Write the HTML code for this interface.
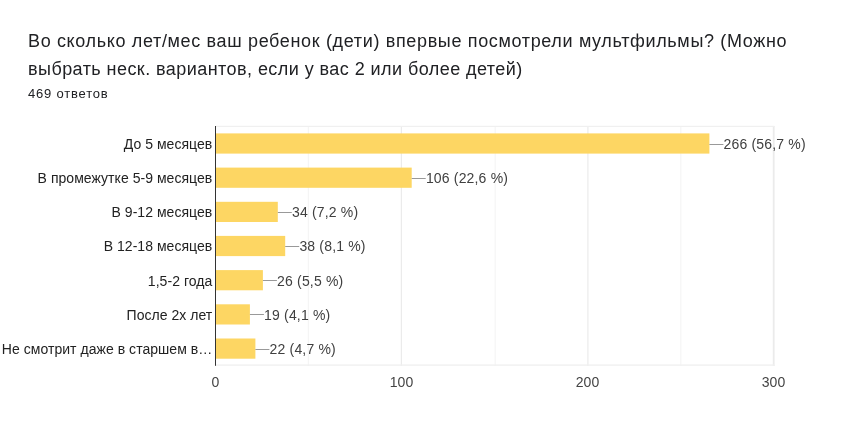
<!DOCTYPE html>
<html lang="ru">
<head>
<meta charset="utf-8">
<title>Chart</title>
<style>
  html, body { margin: 0; padding: 0; background: #ffffff; }
  body { width: 860px; height: 437px; overflow: hidden; position: relative;
         font-family: "Liberation Sans", sans-serif; }
  .title, .sub, svg { will-change: transform; }
  .title { position: absolute; left: 28px; top: 26.5px; width: 820px; white-space: nowrap;
           font-size: 18px; line-height: 28px; color: #202124; letter-spacing: 0.65px; }
  .sub { position: absolute; left: 28px; top: 85.8px; font-size: 13px; line-height: 16px;
          color: #202124; letter-spacing: 0.8px; white-space: nowrap; }
  svg { position: absolute; left: 0; top: 0; }
  svg text { font-family: "Liberation Sans", sans-serif; }
</style>
</head>
<body>
<div class="title"><span>Во сколько лет/мес ваш ребенок (дети) впервые посмотрели мультфильмы? (Можно</span><br><span style="letter-spacing:0.44px">выбрать неск. вариантов, если у вас 2 или более детей)</span></div>
<div class="sub">469 ответов</div>
<svg width="860" height="437" viewBox="0 0 860 437">
  <!-- gridlines -->
  <g fill="#ebebeb">
    <rect x="400.8" y="126" width="1.2" height="240"/>
    <rect x="587.3" y="126" width="1.2" height="240"/>
    <rect x="772.8" y="126" width="1.8" height="240"/>
  </g>
  <g fill="#f5f5f5">
    <rect x="307.8" y="126" width="1.2" height="240"/>
    <rect x="494.6" y="126" width="1.2" height="240"/>
    <rect x="680.2" y="126" width="1.2" height="240"/>
  </g>
  <g fill="#f0f0f0">
    <rect x="216" y="125.8" width="558.6" height="1.2"/>
    <rect x="216" y="364.4" width="558.6" height="1.4"/>
  </g>
  <!-- bars -->
  <g fill="#fdd663">
    <rect x="216" y="133.4" width="493.4" height="20.2"/>
    <rect x="216" y="167.6" width="195.7" height="20.2"/>
    <rect x="216" y="201.8" width="61.8" height="20.2"/>
    <rect x="216" y="235.9" width="69.2" height="20.2"/>
    <rect x="216" y="270.1" width="46.9" height="20.2"/>
    <rect x="216" y="304.3" width="33.9" height="20.2"/>
    <rect x="216" y="338.5" width="39.4" height="20.2"/>
  </g>
  <!-- axis -->
  <rect x="215" y="126" width="1" height="239.8" fill="#333333"/>
  <!-- annotation stems -->
  <g fill="#999999">
    <rect x="709.4" y="144" width="14" height="1"/>
    <rect x="411.7" y="178" width="14" height="1"/>
    <rect x="277.8" y="212" width="14" height="1"/>
    <rect x="285.2" y="246" width="14" height="1"/>
    <rect x="262.9" y="280" width="14" height="1"/>
    <rect x="249.9" y="314" width="14" height="1"/>
    <rect x="255.4" y="349" width="14" height="1"/>
  </g>
  <!-- category labels -->
  <g font-size="14" fill="#222222" text-anchor="end" letter-spacing="0.04">
    <text x="212.3" y="148.9">До 5 месяцев</text>
    <text x="212.3" y="183.1">В промежутке 5-9 месяцев</text>
    <text x="212.3" y="217.3">В 9-12 месяцев</text>
    <text x="212.3" y="251.4">В 12-18 месяцев</text>
    <text x="212.3" y="285.6">1,5-2 года</text>
    <text x="212.3" y="319.8">После 2х лет</text>
    <text x="212.3" y="354.0">Не смотрит даже в старшем в…</text>
  </g>
  <!-- value labels -->
  <g font-size="14" fill="#404040" letter-spacing="0.17">
    <text x="723.6" y="148.9">266 (56,7 %)</text>
    <text x="425.9" y="183.1">106 (22,6 %)</text>
    <text x="292.0" y="217.3">34 (7,2 %)</text>
    <text x="299.4" y="251.4">38 (8,1 %)</text>
    <text x="277.1" y="285.6">26 (5,5 %)</text>
    <text x="264.1" y="319.8">19 (4,1 %)</text>
    <text x="269.6" y="354.0">22 (4,7 %)</text>
  </g>
  <!-- axis labels -->
  <g font-size="14" fill="#444444" text-anchor="middle">
    <text x="215.5" y="386.7">0</text>
    <text x="401.5" y="386.7">100</text>
    <text x="587.5" y="386.7">200</text>
    <text x="773.5" y="386.7">300</text>
  </g>
</svg>
</body>
</html>
